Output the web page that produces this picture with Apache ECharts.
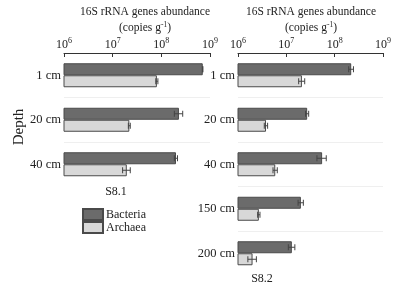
<!DOCTYPE html>
<html><head><meta charset="utf-8">
<script src="https://cdn.jsdelivr.net/npm/echarts@6/dist/echarts.min.js"></script>
<style>html,body{margin:0;padding:0;background:#fff;}#c{width:403px;height:296px;}</style>
</head><body><div id="c"></div>
<script>
// ---- data ----
const depthsA = ['1 cm', '20 cm', '40 cm'];
const bacteriaA = [7.1e8, 2.3e8, 2.0e8];
const bacteriaErrA = [0, 4.5e7, 1.5e7];
const archaeaA = [8.1e7, 2.2e7, 1.95e7];
const archaeaErrA = [4e6, 1e6, 3.5e6];

const depthsB = ['1 cm', '20 cm', '40 cm', '150 cm', '200 cm'];
const bacteriaB = [2.2e8, 2.7e7, 5.5e7, 2.0e7, 1.3e7];
const bacteriaErrB = [2.5e7, 2e6, 1.2e7, 2.5e6, 2e6];
const archaeaB = [2.1e7, 3.8e6, 5.9e6, 2.7e6, 2.0e6];
const archaeaErrB = [3e6, 3e5, 6e5, 1.5e5, 4e5];

const axisTicks = [1e6, 1e7, 1e8, 1e9];
const titleLine1 = '16S rRNA genes abundance';
const titleLine2 = '{t|(copies g}{s|-1}{t|)}';

const FONT = '"Liberation Serif", "DejaVu Serif", serif';
const DARK = '#6b6b6b', LIGHT = '#d8d8d8', EDGE = '#4a4a4a';

function xAxisFor(gi) {
  return {
    type: 'log', logBase: 10, min: axisTicks[0], max: axisTicks[axisTicks.length - 1], gridIndex: gi, position: 'top',
    axisLine: {show: true, lineStyle: {color: '#333', width: 1}},
    axisTick: {show: true, inside: true, length: 4, lineStyle: {color: '#333'}},
    splitLine: {show: false}, minorTick: {show: false},
    axisLabel: {
      margin: 2, color: '#222', fontFamily: FONT,
      formatter: v => '{b|10}{s|' + Math.round(Math.log10(v)) + '}',
      rich: {b: {fontFamily: FONT, fontSize: 12, lineHeight: 14, verticalAlign: 'bottom', color: '#222'},
             s: {fontFamily: FONT, fontSize: 8, lineHeight: 14, verticalAlign: 'top', color: '#222'}}
    }
  };
}
function yAxisFor(gi, cats) {
  return {
    type: 'category', data: cats, inverse: true, gridIndex: gi,
    axisLine: {show: false}, axisTick: {show: false},
    splitLine: {show: true, showMinLine: false, showMaxLine: false, lineStyle: {color: '#efefef', width: 1}},
    axisLabel: {margin: 3, color: '#222', fontFamily: FONT, fontSize: 12.5}
  };
}
function barSeries(name, data, gi, color) {
  return {
    type: 'bar', name, data, xAxisIndex: gi, yAxisIndex: gi,
    barWidth: 12, barGap: '0%', itemStyle: {color, borderColor: EDGE, borderWidth: 1},
    silent: true
  };
}
function errData(vals, errs, off) {
  return vals.map((v, i) => [i, v - errs[i], v + errs[i], off]);
}
function errSeries(data, gi) {
  return {
    type: 'custom', xAxisIndex: gi, yAxisIndex: gi, silent: true, z: 5,
    encode: {x: [1, 2], y: 0},
    renderItem: (params, api) => {
      const c = api.value(0);
      const lo = api.coord([api.value(1), c]);
      const hi = api.coord([api.value(2), c]);
      const y = lo[1] + api.value(3) * 6;
      const h = 3;
      const st = {stroke: '#444', lineWidth: 1};
      return {type: 'group', children: [
        {type: 'line', shape: {x1: lo[0], y1: y, x2: hi[0], y2: y}, style: st},
        {type: 'line', shape: {x1: lo[0], y1: y - h, x2: lo[0], y2: y + h}, style: st},
        {type: 'line', shape: {x1: hi[0], y1: y - h, x2: hi[0], y2: y + h}, style: st}
      ]};
    },
    data
  };
}

const chart = echarts.init(document.getElementById('c'), null, {renderer: 'canvas'});
const titleRich = {
  t: {fontFamily: FONT, fontSize: 11.5, lineHeight: 13, verticalAlign: 'bottom', color: '#222'},
  s: {fontFamily: FONT, fontSize: 7.5, lineHeight: 13, verticalAlign: 'top', color: '#222'}
};
const tStyle = {fontFamily: FONT, fontSize: 11.5, fontWeight: 'normal', color: '#222'};
chart.setOption({
  backgroundColor: '#ffffff',
  animation: false,
  textStyle: {fontFamily: FONT},
  title: [
    {text: titleLine1, left: 145, top: 6, padding: 0, textAlign: 'center', textStyle: tStyle},
    {text: titleLine2, left: 145, top: 21, padding: 0, textAlign: 'center', textStyle: Object.assign({rich: titleRich}, tStyle)},
    {text: titleLine1, left: 311, top: 6, padding: 0, textAlign: 'center', textStyle: tStyle},
    {text: titleLine2, left: 311, top: 21, padding: 0, textAlign: 'center', textStyle: Object.assign({rich: titleRich}, tStyle)},
    {text: 'S8.1', left: 116, top: 186, padding: 0, textAlign: 'center', textStyle: Object.assign({}, tStyle, {fontSize: 12})},
    {text: 'S8.2', left: 262, top: 273, padding: 0, textAlign: 'center', textStyle: Object.assign({}, tStyle, {fontSize: 12})}
  ],
  legend: {
    orient: 'vertical', left: 82, top: 208, padding: 0, itemWidth: 20, itemHeight: 11, itemGap: 0,
    icon: 'rect', data: ['Bacteria', 'Archaea'],
    textStyle: {fontFamily: FONT, fontSize: 12, color: '#222', padding: [0, 0, 0, -2]},
    selectedMode: false
  },
  grid: [
    {left: 64, width: 146, top: 53, height: 133.5},
    {left: 238, width: 145, top: 53, height: 222.5}
  ],
  xAxis: [xAxisFor(0), xAxisFor(1)],
  yAxis: [yAxisFor(0, depthsA), yAxisFor(1, depthsB)],
  graphic: [{
    type: 'text', x: 19, y: 127, rotation: Math.PI / 2, originX: 0, originY: 0,
    style: {text: 'Depth', font: '15px ' + FONT, fill: '#222', align: 'center', verticalAlign: 'middle'}
  }],
  series: [
    barSeries('Bacteria', bacteriaA, 0, DARK),
    barSeries('Archaea', archaeaA, 0, LIGHT),
    barSeries('Bacteria', bacteriaB, 1, DARK),
    barSeries('Archaea', archaeaB, 1, LIGHT),
    errSeries(errData(bacteriaA, bacteriaErrA, -1), 0),
    errSeries(errData(archaeaA, archaeaErrA, 1), 0),
    errSeries(errData(bacteriaB, bacteriaErrB, -1), 1),
    errSeries(errData(archaeaB, archaeaErrB, 1), 1)
  ]
});
</script></body></html>
